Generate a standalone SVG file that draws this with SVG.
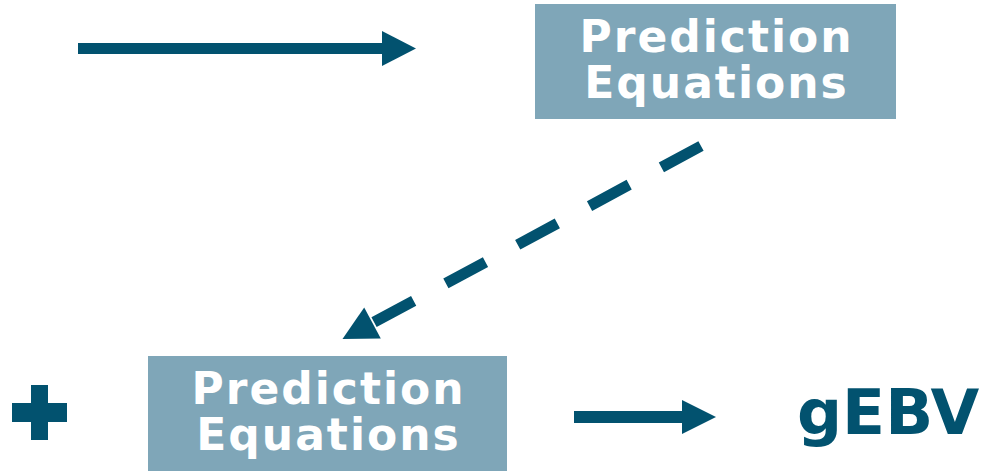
<svg xmlns="http://www.w3.org/2000/svg" width="991" height="471" viewBox="0 0 991 471">
<style>
.box{fill:#7fa6b8}
.lbl{font-family:"DejaVu Sans",Verdana,sans-serif;font-weight:bold;font-size:44px;fill:#ffffff;text-anchor:middle;letter-spacing:2px}
.dark{fill:#02526f}
.ln{stroke:#02526f;stroke-width:11;fill:none}
.big{font-family:"DejaVu Sans",Verdana,sans-serif;font-weight:bold;font-size:63px;fill:#02526f}
</style>
<rect width="991" height="471" fill="#ffffff"/>
<g id="connectors">
<line class="ln" x1="78" y1="48.5" x2="383" y2="48.5"/>
<polygon class="dark" points="382,31 416,48.5 382,66"/>
<path class="ln" d="M701,146 L372.5,323" stroke-dasharray="45 36.6"/>
<polygon class="dark" points="364.2,307.6 342.5,339 380.8,338.4"/>
<line class="ln" x1="574" y1="417" x2="683" y2="417" style="stroke-width:12"/>
<polygon class="dark" points="682,400 716,417 682,434"/>
</g>
<g id="node-top">
<rect class="box" x="535" y="4" width="361" height="115"/>
<text class="lbl" x="716.5" y="52">Prediction</text>
<text class="lbl" x="716.5" y="98">Equations</text>
</g>
<g id="node-bottom">
<rect class="box" x="148" y="356" width="359" height="115"/>
<text class="lbl" x="328.5" y="404">Prediction</text>
<text class="lbl" x="328.5" y="450">Equations</text>
</g>
<g id="plus">
<rect class="dark" x="31" y="385" width="17" height="55"/>
<rect class="dark" x="12" y="403" width="55" height="19"/>
</g>
<g id="gebv">
<text class="big" x="797" y="434">gEBV</text>
</g>
</svg>
